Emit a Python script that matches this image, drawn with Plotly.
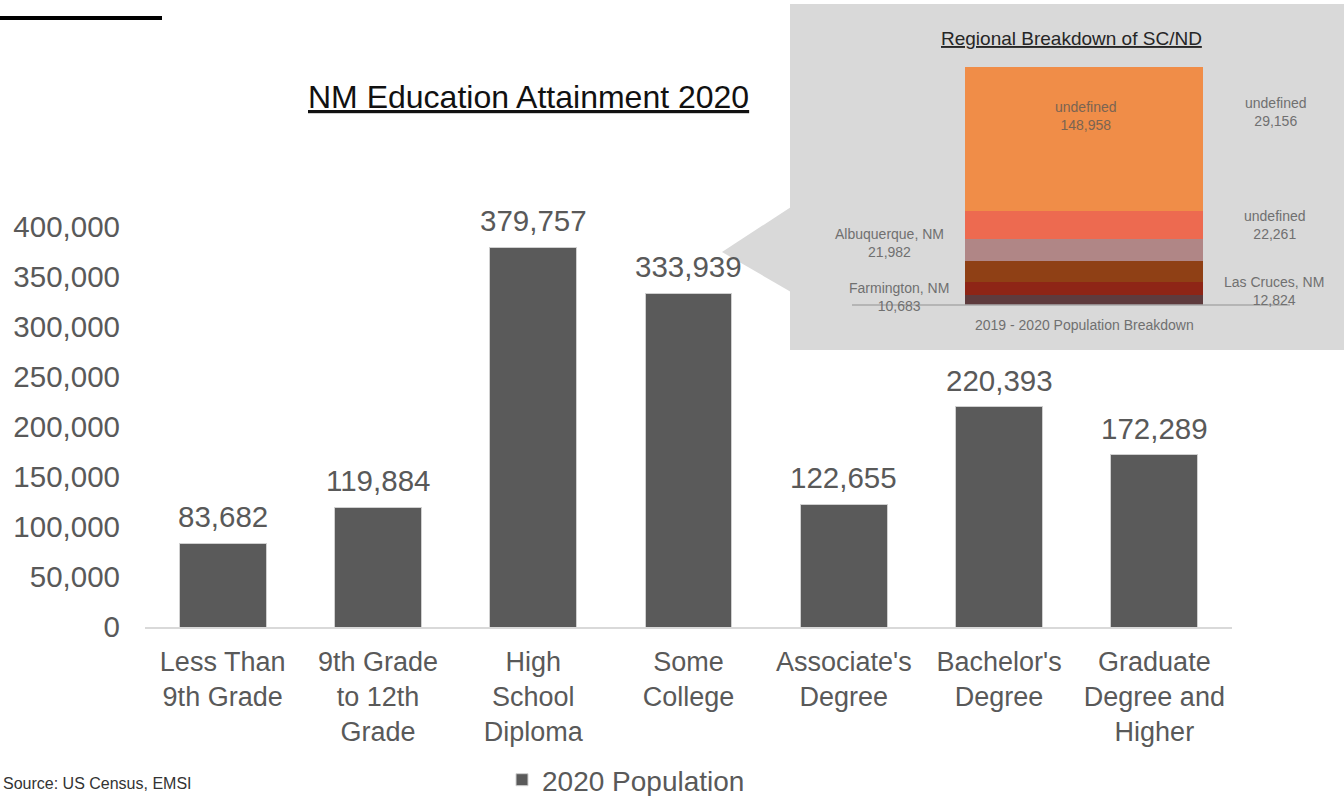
import plotly.graph_objects as go

# ---------------- data ----------------
categories = ["Less Than<br>9th Grade", "9th Grade<br>to 12th<br>Grade", "High<br>School<br>Diploma",
              "Some<br>College", "Associate's<br>Degree", "Bachelor's<br>Degree",
              "Graduate<br>Degree and<br>Higher"]
population_2020 = [83682, 119884, 379757, 333939, 122655, 220393, 172289]
y_tick_values = [0, 50000, 100000, 150000, 200000, 250000, 300000, 350000, 400000]

# inset stacked bar (bottom -> top)
region_names = ["Farmington, NM", "Las Cruces, NM", "Albuquerque, NM", "undefined", "undefined", "undefined"]
region_values = [10683, 12824, 21982, 22261, 29156, 148958]
region_colors = ["#5e3b3d", "#8e2516", "#8f4015", "#b08686", "#ed6a50", "#f08d48"]

W, H = 1344, 796
FONT = "Liberation Sans, Arial, sans-serif"
GRAY = "#595959"


def X(px):
    return px / W


def Y(py):
    return 1 - py / H


fig = go.Figure()

fig.add_trace(go.Bar(
    x=categories, y=population_2020, name="2020 Population",
    marker=dict(color="#5a5a5a", line=dict(color="#d0d0d0", width=1)),
    xaxis="x", yaxis="y", showlegend=True,
))

for name, val, col in zip(region_names, region_values, region_colors):
    fig.add_trace(go.Bar(
        x=["2019 - 2020 Population Breakdown"], y=[val], name=name,
        marker=dict(color=col, line=dict(width=0)), width=0.543,
        xaxis="x2", yaxis="y2", showlegend=False,
    ))

annotations = []
for c, v in zip(categories, population_2020):
    annotations.append(dict(x=c, y=v, xref="x", yref="y", text=f"{v:,}", showarrow=False,
                            xanchor="center", yanchor="bottom", yshift=8,
                            font=dict(family=FONT, size=29.5, color=GRAY)))


def label(px, py, text, font, xanchor="center"):
    return dict(x=X(px), y=Y(py), xref="paper", yref="paper", showarrow=False,
                xanchor=xanchor, yanchor="middle", text=text, font=font)


# title
annotations.append(label(528, 97, "<u>NM Education Attainment 2020</u>",
                         dict(family=FONT, size=32, color="#111111")))
# source
annotations.append(label(1, 783, "Source: US Census, EMSI",
                         dict(family=FONT, size=16, color="#333333"), xanchor="left"))

# inset texts
small = dict(family=FONT, size=14, color="#707070")
annotations.append(label(1071, 38, "<u>Regional Breakdown of SC/ND</u>",
                         dict(family=FONT, size=19, color="#262626")))
annotations.append(label(1086, 116, f"{region_names[5]}<br>{region_values[5]:,}",
                         dict(family=FONT, size=14, color="#7a6452")))
annotations.append(label(1276, 112, f"{region_names[4]}<br>{region_values[4]:,}", small))
annotations.append(label(1275, 225, f"{region_names[3]}<br>{region_values[3]:,}", small))
annotations.append(label(1274, 291, f"{region_names[1]}<br>{region_values[1]:,}", small))
annotations.append(label(889, 243, f"{region_names[2]}<br>{region_values[2]:,}", small))
annotations.append(label(899, 297, f"{region_names[0]}<br>{region_values[0]:,}", small))
annotations.append(label(1084, 325, "2019 - 2020 Population Breakdown", small))

shapes = [
    # black rule top-left
    dict(type="line", xref="paper", yref="paper", x0=0, x1=X(162), y0=Y(18), y1=Y(18),
         line=dict(color="#000000", width=4)),
    # inset background
    dict(type="rect", xref="paper", yref="paper", x0=X(790), x1=1, y0=Y(350), y1=Y(4),
         fillcolor="#d9d9d9", line=dict(width=0), layer="below"),
    # callout wedge
    dict(type="path", xref="paper", yref="paper",
         path=f"M {X(722)},{Y(252)} L {X(791)},{Y(207)} L {X(791)},{Y(292)} Z",
         fillcolor="#d9d9d9", line=dict(width=0), layer="below"),
    # inset baseline
    dict(type="line", xref="paper", yref="paper", x0=X(852), x1=X(1290), y0=Y(305), y1=Y(305),
         line=dict(color="#a8a8a8", width=1.5)),
]

fig.update_layout(
    width=W, height=H, autosize=False, template="none",
    margin=dict(l=0, r=0, t=0, b=0, autoexpand=False),
    paper_bgcolor="white", plot_bgcolor="rgba(0,0,0,0)",
    barmode="stack", bargap=0.44,
    showlegend=True,
    legend=dict(orientation="h", x=X(502), y=Y(780), xanchor="left", yanchor="middle",
                font=dict(family=FONT, size=28, color=GRAY), bgcolor="rgba(0,0,0,0)"),
    xaxis=dict(domain=[X(145), X(1232)], anchor="y", showgrid=False, zeroline=False,
               showline=True, linecolor="#d9d9d9", linewidth=1.5, ticks="",
               tickfont=dict(family=FONT, size=27, color=GRAY), ticklabelstandoff=10,
               automargin=False),
    yaxis=dict(domain=[Y(627), Y(177)], anchor="x", range=[0, 450000], showgrid=False,
               zeroline=False, showline=False, tickvals=y_tick_values, tickformat=",",
               ticks="", tickfont=dict(family=FONT, size=29.5, color=GRAY), ticklabelstandoff=24,
               automargin=False),
    xaxis2=dict(domain=[X(865), X(1303)], anchor="y2", range=[-0.5, 0.5], showgrid=False,
                zeroline=False, showline=False, ticks="", showticklabels=False, automargin=False),
    yaxis2=dict(domain=[Y(305), Y(67)], anchor="x2", range=[0, sum(region_values)], showgrid=False,
                zeroline=False, showline=False, showticklabels=False, ticks="", automargin=False),
    annotations=annotations,
    shapes=shapes,
)

fig.write_html("out.html", config={"displayModeBar": False, "responsive": False},
               post_script="document.body.style.margin='0';")
